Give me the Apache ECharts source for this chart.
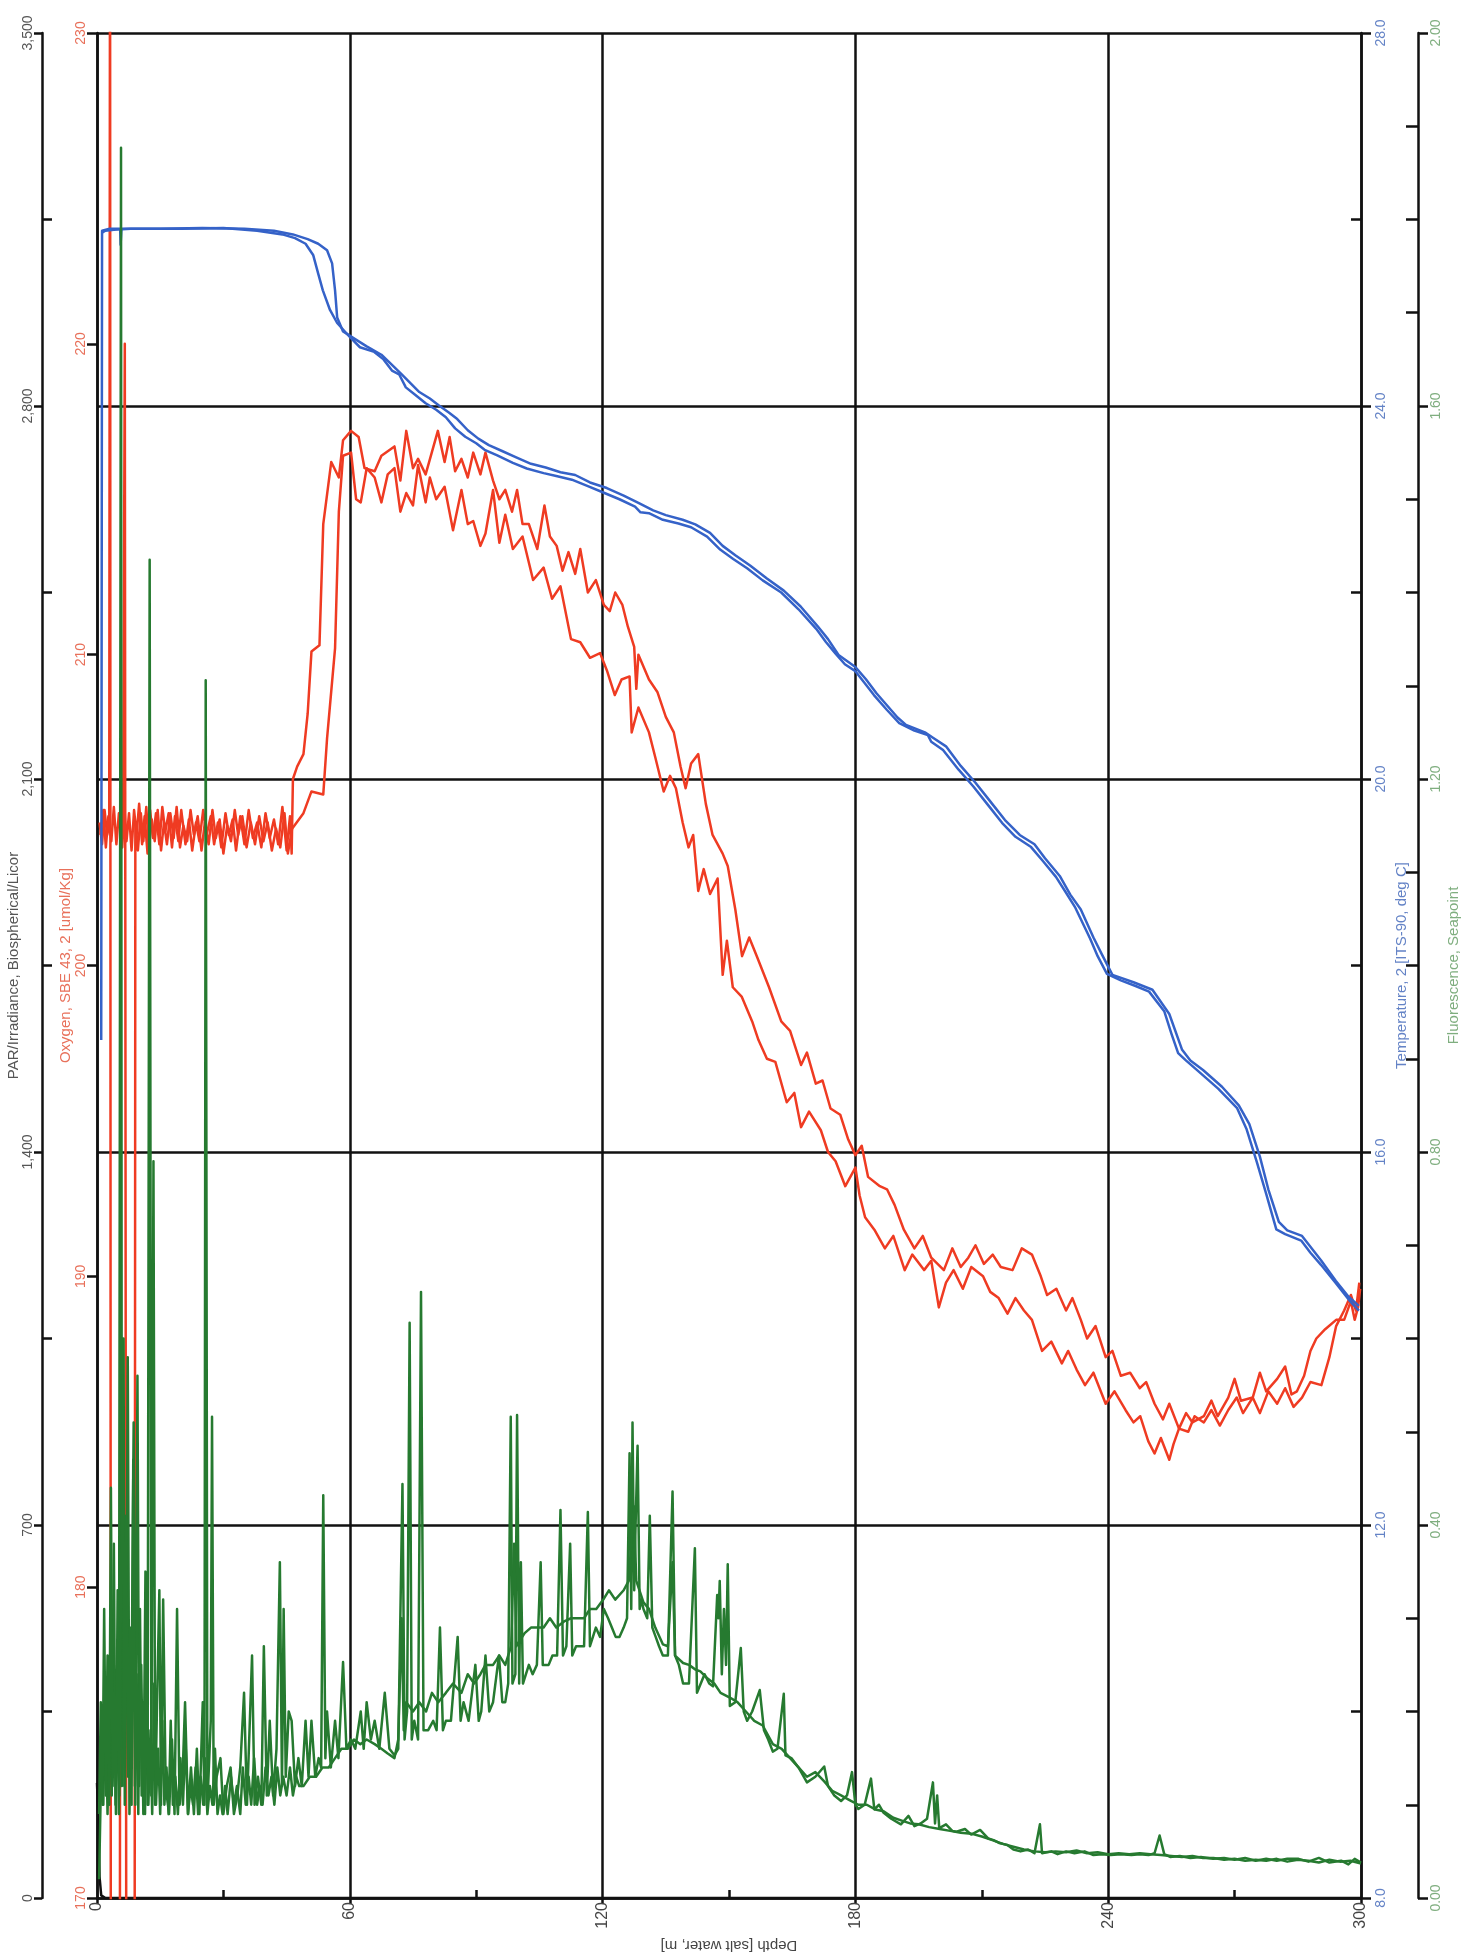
<!DOCTYPE html>
<html>
<head>
<meta charset="utf-8">
<title>CTD profile</title>
<script src="https://cdn.jsdelivr.net/npm/echarts@6/dist/echarts.min.js"></script>
<style>
  html, body { margin: 0; padding: 0; background: #fff; }
  #chart { width: 1461px; height: 1957px; }
</style>
</head>
<body>
<div id="chart"></div>
<script>
// every profile is a list of [depth m, value]
const parProfile = [[0, 216], [0.3, 150], [0.6, 40], [1, 5], [2, 0], [300, 0]]

const oxygenDown = [
  [0.6, 204.6], [1.2, 203.9], [1.8, 205.0], [2.4, 204.2], [2.9, 204.5], [3.1, 236], [3.3, 160], [4.2, 160], [5.4, 160],
  [5.6, 204.5], [6.0, 203.8], [6.5, 205.1], [7.0, 204.0], [7.6, 204.9], [8.2, 203.7], [8.8, 205.0], [9.4, 204.2],
  [10, 205.2], [10.7, 203.9], [11.3, 204.8], [12, 203.6], [12.6, 205.0], [13.3, 204.1], [14, 204.9], [14.8, 203.9],
  [15.5, 205.1], [16.2, 204.3], [17, 204.9], [17.8, 203.8], [18.5, 204.8], [19.3, 204.0], [20, 205.0], [21, 203.9],
  [21.8, 204.7], [22.6, 203.7], [23.5, 204.6], [24.3, 204.0], [25.2, 205.0], [26, 204.2], [27, 204.8], [27.8, 203.9],
  [28.7, 204.6], [29.5, 203.8], [30.5, 204.9], [31.3, 204.2], [32.2, 204.7], [33, 203.7], [34, 204.8], [35, 203.9],
  [36, 205.0], [37, 204.1], [38, 204.6], [39, 203.8], [40, 204.9], [41, 204.1], [42, 204.7], [43, 203.9], [44, 205.1],
  [45, 203.7], [45.8, 204.8], [46.2, 203.6], [46.5, 206.0], [47.5, 206.4], [49.0, 206.8], [50.0, 208.1], [50.9, 210.1],
  [52.8, 210.3], [53.7, 214.2], [55.6, 216.2], [57.4, 215.7], [58.4, 216.9], [60.3, 217.2],
  [62.1, 217.0], [63.5, 216.0], [65.9, 215.9], [67.5, 216.4], [70.6, 216.7], [72, 215.6], [73.4, 217.2], [75, 216.0],
  [76.2, 216.3], [78, 215.8], [80.9, 217.2], [82.5, 216.2], [83.7, 217.0], [85, 215.9], [86.5, 216.3], [88, 215.7],
  [89.3, 216.5], [91, 215.8], [92.2, 216.5], [94.0, 215.6], [95.5, 215.0], [96.9, 215.3], [98.5, 214.6], [99.7, 215.3],
  [101, 214.2], [102.5, 214.2], [104.5, 213.4], [106.2, 214.8], [107.5, 213.8], [109.1, 213.5], [110.5, 212.7],
  [111.9, 213.3], [113.5, 212.6], [114.7, 213.4], [116.5, 212.0], [118.4, 212.4], [120.3, 211.6], [121.7, 211.4],
  [123, 212.0], [124.7, 211.6], [126, 210.9], [127.5, 210.25], [128, 208.9], [128.5, 210.0], [131, 209.2], [133, 208.8],
  [135, 208.0], [136.9, 207.5], [138.5, 206.4], [139.7, 205.7], [141, 206.5], [142.7, 206.8], [144.5, 205.2],
  [146.1, 204.2], [148.5, 203.6], [149.7, 203.2], [151.5, 201.8], [153.1, 200.3], [154.8, 200.9], [156.6, 200.3],
  [159.5, 199.3], [162.4, 198.2], [164.5, 197.9], [167.1, 196.8], [168.5, 197.2], [170.6, 196.2], [172.2, 196.3],
  [174.1, 195.4], [176.4, 195.2], [178.3, 194.4], [180, 193.9], [181.5, 194.2], [183, 193.2], [185.8, 192.9],
  [187.5, 192.8], [189.3, 192.3], [191.5, 191.5], [194, 190.9], [196, 191.3], [198, 190.6], [201, 190.2], [203, 190.9],
  [205, 190.3], [206.8, 190.6], [208.5, 191.0], [210.5, 190.4], [212.6, 190.7], [214.5, 190.3], [217.3, 190.2],
  [219.5, 190.9], [221.9, 190.7], [224, 190.0], [225.5, 189.4], [227.7, 189.6], [230, 188.9], [231.5, 189.3],
  [233.5, 188.6], [235, 188.0], [237, 188.4], [239.4, 187.4], [241, 187.6], [243, 186.8], [245.2, 186.9], [247.5, 186.4],
  [249, 186.6], [251, 185.9], [253, 185.4], [254.5, 185.9], [256.8, 185.1], [258.5, 185.6], [260, 185.3], [262.7, 185.5],
  [264.5, 186.0], [266, 185.5], [268.5, 186.1], [270, 186.7], [271.5, 186.0], [274.3, 186.1], [276, 186.9], [277.5, 186.3],
  [280.1, 186.7], [282, 187.1], [283.5, 186.2], [284.8, 186.3], [286.5, 186.8], [288, 187.6], [289.4, 188.0],
  [291.5, 188.3], [294.1, 188.6], [296, 188.6], [297.6, 189.2], [298.5, 188.6], [299.3, 189.0], [299.8, 189.6]
]

const oxygenUp = [
  [0.8, 204.2], [1.5, 205.0], [2.1, 203.8], [2.7, 204.8], [3.4, 204.0], [4.0, 205.1], [4.6, 203.9], [5.2, 204.9],
  [5.8, 204.1], [6.2, 204.4], [6.6, 220], [7.0, 160], [8.9, 160], [9.1, 204.6], [9.7, 203.7], [10.4, 204.9],
  [11.0, 204.0], [11.7, 205.1], [12.3, 203.8], [13.0, 204.7], [13.7, 204.0], [14.4, 205.0], [15.2, 203.7],
  [15.9, 204.6], [16.6, 203.9], [17.4, 204.9], [18.2, 204.1], [18.9, 205.1], [19.7, 203.8], [20.5, 204.5],
  [21.4, 204.0], [22.2, 205.0], [23.0, 204.2], [23.9, 204.8], [24.8, 203.7], [25.6, 204.6], [26.5, 203.9],
  [27.4, 205.0], [28.2, 204.1], [29.1, 204.7], [30.0, 203.6], [30.9, 204.5], [31.8, 204.0], [32.7, 205.0],
  [33.5, 204.2], [34.5, 204.8], [35.5, 203.8], [36.5, 204.6], [37.5, 203.9], [38.5, 204.8], [39.5, 204.0],
  [40.5, 204.6], [41.5, 203.7], [42.5, 204.4], [43.5, 203.8], [44.5, 204.9], [45.3, 203.6], [46.3, 204.4],
  [49.0, 204.9], [50.9, 205.6], [53.7, 205.5], [54.6, 207.3], [56.5, 210.2], [57.4, 214.6], [58.4, 216.4], [60.3, 216.5],
  [61.5, 215.0], [62.6, 214.9], [64.0, 216.0], [65.9, 215.7], [67.5, 214.9], [69, 215.8], [70.6, 216.0], [72, 214.6],
  [73.4, 215.2], [75, 214.8], [76.2, 216.1], [78, 214.9], [79.0, 215.7], [80.5, 215.0], [82.5, 215.4], [84.5, 214.0],
  [86.5, 215.3], [88, 214.2], [89.3, 214.3], [91, 213.5], [92.2, 213.9], [94.0, 215.3], [95.5, 213.6], [96.9, 214.5],
  [98.7, 213.4], [101, 213.8], [103.5, 212.4], [106, 212.8], [108, 211.8], [110, 212.2], [112.5, 210.5], [114.7, 210.4],
  [117, 209.9], [119.4, 210.05], [121, 209.5], [122.9, 208.7], [124.5, 209.2], [126.4, 209.3], [126.9, 207.5],
  [128.5, 208.3], [131, 207.5], [132.5, 206.7], [134.5, 205.6], [136, 206.1], [137.4, 205.7], [139, 204.6],
  [140.4, 203.8], [141.5, 204.2], [142.7, 202.4], [144, 203.1], [145.5, 202.3], [147.3, 202.8], [148.5, 199.7],
  [149.5, 200.8], [150.9, 199.3], [153, 199.0], [155.5, 198.2], [157, 197.6], [159, 197.0], [161, 196.9], [163.7, 195.6],
  [165.5, 195.9], [167.1, 194.8], [169, 195.3], [171.8, 194.7], [173.5, 194.0], [175.3, 193.7], [177.6, 192.9],
  [180, 193.5], [181, 192.6], [182.3, 191.9], [184.5, 191.5], [187, 190.9], [189, 191.3], [191.7, 190.2], [193.5, 190.7],
  [196.3, 190.2], [198, 190.5], [199.8, 189.0], [201.5, 189.8], [203.3, 190.2], [205.5, 189.6], [207.5, 190.3],
  [210.3, 190.0], [212, 189.5], [214, 189.3], [216.1, 188.8], [218, 189.3], [220, 188.9], [221.9, 188.6], [224.3, 187.6],
  [226.5, 187.9], [229, 187.2], [230.5, 187.6], [232.5, 187.0], [234.5, 186.5], [236.5, 186.9], [239.4, 185.9],
  [241.5, 186.3], [244.1, 185.7], [246, 185.3], [247.6, 185.5], [249.5, 184.7], [251, 184.3], [252.5, 184.8],
  [254.5, 184.1], [255.5, 184.6], [256.8, 185.1], [259, 185.0], [260.5, 185.5], [262.7, 185.3], [264.5, 185.7],
  [266.5, 185.2], [268.5, 185.7], [270.5, 186.1], [272, 185.6], [274.3, 186.1], [276, 185.6], [278, 186.3],
  [280.1, 185.9], [282, 186.4], [284, 185.8], [286, 186.1], [288, 186.6], [290.6, 186.5], [292.5, 187.4],
  [294.1, 188.4], [296, 188.9], [297.6, 189.4], [298.8, 188.9], [299.6, 189.8]
]

const tempDown = [
  [1.0, 17.2], [1.2, 25.88], [3, 25.9], [5.5, 25.9], [5.6, 25.73], [5.8, 25.9], [10, 25.9], [20, 25.9], [30, 25.91],
  [38, 25.88], [44, 25.84], [47, 25.8], [49.5, 25.74], [51.3, 25.62], [52.5, 25.42], [53.6, 25.24], [55.3, 25.03],
  [57, 24.89], [60, 24.74], [62.4, 24.63], [65.8, 24.58], [68, 24.5], [70, 24.38], [71.7, 24.34], [73.3, 24.2],
  [75.5, 24.12], [78, 24.03], [80.5, 23.96], [82.8, 23.88], [85, 23.76], [87.4, 23.67], [90, 23.6], [92, 23.53],
  [95, 23.47], [98.7, 23.39], [102, 23.33], [106, 23.28], [109, 23.25], [112.7, 23.21], [116.5, 23.14], [120.3, 23.07],
  [124, 23.0], [127.7, 22.92], [129, 22.86], [131, 22.85], [134.3, 22.78], [138, 22.74], [141, 22.70], [144.8, 22.6],
  [147.9, 22.46], [151, 22.36], [154.3, 22.26], [158, 22.13], [162.4, 22.0], [166.5, 21.82], [170.7, 21.61],
  [173, 21.47], [175.2, 21.35], [177.5, 21.23], [179.9, 21.16], [182, 21.04], [184.4, 20.9], [187.5, 20.74],
  [190.4, 20.6], [194, 20.52], [197.2, 20.47], [198, 20.4], [200.8, 20.31], [204.5, 20.1], [208, 19.92], [211.5, 19.72],
  [214.8, 19.53], [218, 19.38], [221.7, 19.27], [224.5, 19.12], [227.6, 18.95], [230, 18.78], [232.2, 18.62],
  [235.7, 18.29], [237.5, 18.1], [239.7, 17.91], [243, 17.84], [246.5, 17.78], [249.7, 17.72], [253.3, 17.51],
  [255, 17.27], [256.6, 17.06], [258.5, 16.98], [261.3, 16.87], [266.1, 16.68], [270.6, 16.47], [272.8, 16.25],
  [275.3, 15.89], [277.5, 15.55], [279.9, 15.17], [282, 15.12], [285.8, 15.05], [288, 14.92], [290.5, 14.79],
  [293.9, 14.6], [297.4, 14.4], [299.5, 14.3]
]

const tempUp = [
  [299.5, 14.35], [297, 14.45], [294, 14.62], [290.5, 14.84], [286, 15.1], [282.5, 15.16], [280.5, 15.25], [278, 15.6],
  [276, 15.95], [273.5, 16.3], [271, 16.5], [267, 16.7], [262.5, 16.88], [259.5, 16.98], [257.5, 17.1], [254.5, 17.48],
  [250.5, 17.74], [246, 17.82], [241, 17.9], [238.5, 18.12], [236.5, 18.3], [233.5, 18.6], [231, 18.76], [228.5, 18.96],
  [225, 19.15], [222.5, 19.3], [219, 19.4], [215.5, 19.56], [212, 19.76], [208.5, 19.96], [205, 20.14], [201.5, 20.35],
  [198.5, 20.44], [196.5, 20.5], [192, 20.58], [190, 20.66], [185, 20.92], [182.5, 21.07], [180, 21.2], [176, 21.33],
  [173.5, 21.5], [171, 21.64], [167, 21.85], [163, 22.02], [159, 22.15], [155, 22.29], [151.5, 22.4], [148.5, 22.5],
  [145.5, 22.64], [142, 22.73], [139, 22.78], [135, 22.83], [132, 22.88], [128.5, 22.96], [125, 23.04], [121, 23.12],
  [117, 23.18], [113.5, 23.26], [110, 23.29], [106.5, 23.34], [103, 23.38], [99.5, 23.45], [96, 23.52], [93, 23.58],
  [90.5, 23.65], [88, 23.74], [85.5, 23.86], [83.5, 23.93], [81, 24.01], [79, 24.08], [76.5, 24.15], [74.5, 24.24],
  [72.5, 24.33], [70.5, 24.42], [67.5, 24.55], [64, 24.64], [60.8, 24.73], [58.4, 24.8], [57, 24.95], [56.5, 25.24],
  [55.8, 25.53], [54.6, 25.67], [52.5, 25.74], [50, 25.79], [46.5, 25.84], [42, 25.88], [35, 25.9], [25, 25.91],
  [15, 25.9], [8, 25.9], [4, 25.89], [2, 25.88], [1.2, 25.86]
]

const fluorDown = [
  [0.5, 0.02], [1.0, 0.14], [1.5, 0.10], [2.0, 0.23], [2.5, 0.09], [3.0, 0.21], [3.5, 0.11], [4.0, 0.38], [4.4, 0.10],
  [4.8, 0.25], [5.2, 0.09], [5.7, 1.877], [5.9, 0.12], [6.1, 0.30], [6.3, 0.60], [6.6, 0.10], [7.0, 0.28], [7.3, 0.58],
  [7.7, 0.09], [8.2, 0.22], [8.7, 0.51], [9.1, 0.10], [9.6, 0.56], [10.0, 0.12], [10.5, 0.25], [11.0, 0.09],
  [11.5, 0.35], [12.0, 0.10], [12.5, 1.435], [12.9, 0.11], [13.4, 0.79], [13.8, 0.10], [14.3, 0.22], [14.8, 0.33],
  [15.2, 0.10], [15.7, 0.32], [16.3, 0.12], [17.1, 0.09], [17.8, 0.17], [18.4, 0.09], [19.0, 0.31], [19.6, 0.10],
  [20.3, 0.13], [20.9, 0.21], [21.6, 0.09], [22.3, 0.14], [23.0, 0.09], [23.7, 0.16], [24.3, 0.09], [25.1, 0.21],
  [25.5, 0.10], [25.8, 1.306], [26.2, 0.10], [27.0, 0.19], [27.3, 0.516], [27.7, 0.10], [28.4, 0.13], [29.3, 0.15],
  [30.0, 0.09], [30.8, 0.12], [31.7, 0.14], [32.5, 0.09], [33.3, 0.11], [34.0, 0.14], [34.9, 0.22], [35.6, 0.10],
  [36.8, 0.26], [37.4, 0.10], [38.2, 0.13], [39.0, 0.10], [39.6, 0.27], [40.3, 0.11], [41.0, 0.19], [41.8, 0.11],
  [42.6, 0.16], [43.4, 0.36], [43.9, 0.12], [44.3, 0.31], [44.8, 0.13], [45.5, 0.20], [46.2, 0.19], [47.0, 0.12],
  [47.8, 0.15], [48.6, 0.12], [49.5, 0.19], [50.2, 0.13], [50.9, 0.19], [51.8, 0.13], [52.6, 0.15], [53.2, 0.14],
  [53.7, 0.432], [54.2, 0.15], [54.6, 0.20], [55.5, 0.14], [56.5, 0.19], [57.3, 0.15], [58.4, 0.253], [59.2, 0.16],
  [60.3, 0.17], [61.3, 0.16], [62.6, 0.20], [63.3, 0.16], [64.0, 0.21], [65.0, 0.17], [65.9, 0.19], [67.0, 0.16],
  [68.3, 0.22], [69.4, 0.16], [70.6, 0.153], [71.5, 0.16], [72.5, 0.444], [73.0, 0.17], [73.6, 0.20], [74.2, 0.617],
  [74.7, 0.17], [75.3, 0.19], [76.2, 0.17], [76.9, 0.65], [77.5, 0.18], [78.6, 0.18], [79.8, 0.19], [80.6, 0.18],
  [81.4, 0.29], [82.1, 0.18], [82.8, 0.19], [84.0, 0.19], [85.6, 0.28], [86.3, 0.19], [87.0, 0.21], [88.2, 0.19],
  [89.8, 0.25], [90.6, 0.19], [91.2, 0.20], [92.2, 0.26], [93.1, 0.20], [94.0, 0.21], [95.4, 0.26], [96.2, 0.21],
  [96.9, 0.21], [97.6, 0.23], [98.2, 0.516], [98.6, 0.23], [99.3, 0.24], [99.7, 0.518], [100.2, 0.23], [100.6, 0.36],
  [101.1, 0.23], [101.5, 0.23], [102.5, 0.25], [103.4, 0.24], [104.4, 0.25], [105.3, 0.36], [105.8, 0.25],
  [106.2, 0.25], [107.2, 0.25], [108.1, 0.26], [109.2, 0.26], [110.0, 0.416], [110.6, 0.26], [111.4, 0.27],
  [112.3, 0.38], [112.8, 0.26], [113.7, 0.27], [114.6, 0.27], [115.6, 0.27], [116.5, 0.414], [117.0, 0.27],
  [117.7, 0.28], [118.4, 0.29], [119.4, 0.28], [120.3, 0.31], [121.3, 0.30], [122.2, 0.29], [123.1, 0.28],
  [124.0, 0.28], [125.0, 0.29], [125.8, 0.30], [126.4, 0.477], [126.8, 0.31], [127.1, 0.51], [127.5, 0.33],
  [127.8, 0.395], [128.3, 0.485], [128.8, 0.31], [129.2, 0.32], [129.7, 0.31], [130.6, 0.30], [131.2, 0.41],
  [131.8, 0.29], [132.6, 0.28], [133.4, 0.27], [134.3, 0.26], [135.5, 0.26], [136.6, 0.436], [137.2, 0.26],
  [138.1, 0.25], [139.1, 0.23], [140.5, 0.23], [141.9, 0.375], [142.4, 0.22], [143.3, 0.23], [144.2, 0.24],
  [145.3, 0.23], [146.2, 0.227], [147.2, 0.325], [147.5, 0.30], [147.8, 0.34], [148.3, 0.24], [148.8, 0.31],
  [149.3, 0.25], [149.7, 0.358], [150.2, 0.206], [151.5, 0.21], [152.8, 0.268], [153.5, 0.20], [154.3, 0.19],
  [155.5, 0.20], [157.3, 0.223], [158.3, 0.18], [159.3, 0.17], [160.4, 0.157], [161.5, 0.16], [163.0, 0.219],
  [163.4, 0.153], [164.8, 0.15], [166.5, 0.14], [168.5, 0.124], [170.5, 0.13], [172.6, 0.141], [173.5, 0.12],
  [175.0, 0.11], [176.6, 0.104], [178.0, 0.11], [179.2, 0.135], [180.0, 0.10], [180.7, 0.0955], [182.2, 0.10],
  [183.7, 0.128], [184.5, 0.095], [185.6, 0.10], [186.7, 0.0913], [188.5, 0.085], [190.8, 0.079], [192.6, 0.088],
  [194.0, 0.077], [195.5, 0.08], [197.0, 0.085], [198.4, 0.124], [198.9, 0.08], [199.4, 0.11], [199.9, 0.075],
  [201.5, 0.079], [203.0, 0.072], [204.0, 0.071], [206.0, 0.074], [207.5, 0.068], [209.6, 0.073], [211.5, 0.064],
  [212.8, 0.062], [214.1, 0.059], [216.0, 0.057], [217.5, 0.052], [219.2, 0.05], [221.0, 0.052], [222.5, 0.048],
  [223.8, 0.079], [224.3, 0.048], [226.5, 0.05], [228.0, 0.047], [230.0, 0.05], [232.0, 0.048], [234.4, 0.05],
  [236.5, 0.046], [238.5, 0.047], [240.6, 0.046], [243.0, 0.047], [245.5, 0.046], [247.5, 0.047], [249.6, 0.046],
  [251.0, 0.048], [252.2, 0.067], [253.3, 0.047], [254.7, 0.044], [257.0, 0.045], [259.5, 0.043], [262.0, 0.044],
  [264.9, 0.042], [267.5, 0.043], [270.0, 0.041], [272.5, 0.043], [275.0, 0.04], [277.5, 0.042], [280.0, 0.04],
  [282.5, 0.042], [285.2, 0.042], [287.5, 0.039], [290.0, 0.043], [292.5, 0.038], [295.3, 0.04], [297.0, 0.036],
  [298.5, 0.042], [300.0, 0.038]
]

const fluorUp = [
  [0.5, 0.09], [0.9, 0.21], [1.3, 0.10], [1.7, 0.31], [2.1, 0.11], [2.5, 0.26], [2.9, 0.10], [3.3, 0.44], [3.7, 0.12],
  [4.1, 0.22], [4.5, 0.09], [4.9, 0.33], [5.3, 0.11], [6.1, 0.56], [6.5, 0.12], [6.9, 0.41], [7.4, 0.13], [7.8, 0.29],
  [8.2, 0.10], [8.6, 0.47], [9.0, 0.12], [9.4, 0.24], [9.8, 0.09], [10.2, 0.31], [10.6, 0.11], [11.0, 0.21],
  [11.4, 0.09], [11.8, 0.27], [12.2, 0.10], [12.7, 0.18], [13.1, 0.09], [13.6, 0.23], [14.0, 0.10], [14.5, 0.16],
  [15.0, 0.09], [15.5, 0.19], [16.0, 0.10], [16.5, 0.14], [17.0, 0.09], [17.5, 0.19], [18.0, 0.10], [18.6, 0.13],
  [19.2, 0.09], [19.8, 0.15], [20.4, 0.10], [21.0, 0.17], [21.6, 0.09], [22.2, 0.12], [22.8, 0.10], [23.4, 0.14],
  [24.0, 0.09], [24.6, 0.13], [25.2, 0.10], [25.6, 0.15], [26.2, 0.09], [26.8, 0.12], [27.4, 0.10], [28.0, 0.16],
  [28.6, 0.09], [29.2, 0.11], [29.8, 0.09], [30.4, 0.12], [31.0, 0.09], [31.8, 0.13], [32.5, 0.10], [33.2, 0.12],
  [34.0, 0.09], [34.6, 0.14], [35.3, 0.10], [36.0, 0.13], [36.6, 0.10], [37.3, 0.15], [38.0, 0.10], [38.6, 0.12],
  [39.3, 0.10], [40.0, 0.14], [40.7, 0.11], [41.4, 0.13], [42.1, 0.10], [42.8, 0.14], [43.5, 0.11], [44.2, 0.13],
  [45.0, 0.11], [45.8, 0.14], [46.5, 0.11], [47.3, 0.13], [48.0, 0.12], [49.0, 0.12], [50.5, 0.13], [52.0, 0.13],
  [53.5, 0.14], [55.0, 0.14], [56.5, 0.15], [58.0, 0.16], [59.5, 0.16],
  [61.0, 0.17], [62.5, 0.165], [64.0, 0.17], [65.9, 0.165], [67.5, 0.16], [69.0, 0.155], [70.6, 0.15], [71.5, 0.17],
  [72.3, 0.30], [72.8, 0.18], [73.4, 0.21], [75.0, 0.20], [76.5, 0.21], [78.1, 0.20], [79.5, 0.22], [81.0, 0.21],
  [82.8, 0.22], [84.5, 0.23], [86.5, 0.22], [88.0, 0.24], [89.5, 0.23], [91.0, 0.24], [92.2, 0.25], [94.0, 0.25],
  [95.5, 0.26], [96.9, 0.25], [98.3, 0.27], [99.0, 0.38], [99.5, 0.27], [101.5, 0.284], [103.0, 0.29], [104.5, 0.29],
  [106.0, 0.29], [107.5, 0.30], [109.0, 0.29], [111.0, 0.297], [112.5, 0.30], [114.0, 0.30], [115.6, 0.30],
  [117.0, 0.31], [118.5, 0.31], [120.3, 0.321], [121.5, 0.33], [123.0, 0.32], [125.0, 0.33], [126.2, 0.34],
  [127.4, 0.42], [128.0, 0.34], [129.7, 0.317], [131.0, 0.31], [132.5, 0.29], [134.3, 0.272], [135.5, 0.27],
  [136.6, 0.36], [137.2, 0.26], [139.1, 0.252], [140.5, 0.25], [142.0, 0.245], [143.2, 0.243], [145.0, 0.235],
  [146.5, 0.23], [148.0, 0.22], [150.2, 0.215], [152.0, 0.21], [154.0, 0.20], [156.0, 0.19], [158.0, 0.185],
  [160.4, 0.165], [162.5, 0.16], [164.5, 0.15], [166.5, 0.14], [168.5, 0.13], [170.5, 0.135], [172.6, 0.125],
  [174.5, 0.115], [176.6, 0.11], [178.6, 0.105], [180.7, 0.1], [182.7, 0.1], [184.7, 0.095], [186.7, 0.093],
  [189.0, 0.086], [191.0, 0.083], [193.0, 0.08], [195.0, 0.079], [197.5, 0.076], [200.0, 0.074], [202.5, 0.072],
  [205.0, 0.07], [207.5, 0.069], [210.0, 0.066], [212.5, 0.062], [215.0, 0.058], [217.5, 0.055], [220.0, 0.052],
  [222.5, 0.05], [225.0, 0.049], [227.5, 0.05], [230.0, 0.049], [232.5, 0.051], [235.0, 0.048], [237.5, 0.049],
  [240.0, 0.047], [242.5, 0.048], [245.0, 0.047], [247.5, 0.048], [250.0, 0.047], [252.5, 0.046], [255.0, 0.045],
  [257.5, 0.044], [260.0, 0.045], [262.5, 0.043], [265.0, 0.043], [267.5, 0.041], [270.0, 0.042], [272.5, 0.04],
  [275.0, 0.041], [277.5, 0.04], [280.0, 0.042], [282.5, 0.039], [285.0, 0.041], [287.5, 0.04], [290.0, 0.038],
  [292.5, 0.041], [295.0, 0.039], [297.5, 0.04], [300.0, 0.037]
]

// axis ranges: [min, max, interval]
const depthRange = [0, 300, 60]
const parRange = [0, 3500, 700]
const oxygenRange = [170, 230, 10]
const tempRange = [8, 28, 4]
const fluorRange = [0, 2, 0.4]

const ink = '#111'
const colors = {
  par: '#111',
  oxygen: '#ef3b22',
  temp: '#3562c8',
  fluor: '#267a30'
}
const labelColors = {
  par: '#555',
  oxygen: '#e8705a',
  temp: '#6483c6',
  fluor: '#7fae7f'
}
const fontFamily = '"Liberation Sans", Arial, sans-serif'
const labelSize = 14
const nameSize = 15

function lineStyle (w) {
  return { color: ink, width: w || 2.5 }
}

function valueAxis (range, opts) {
  return Object.assign({
    type: 'value',
    min: range[0],
    max: range[1],
    interval: range[2],
    nameLocation: 'middle',
    nameRotate: 90,
    nameMoveOverlap: false,
    axisLine: { show: true, onZero: false, lineStyle: lineStyle() },
    axisTick: { show: true, length: 8, lineStyle: lineStyle() },
    splitLine: { show: false }
  }, opts)
}

const chart = echarts.init(document.getElementById('chart'), null, { renderer: 'canvas' })

const option = {
  backgroundColor: '#fff',
  animation: false,
  textStyle: { fontFamily: fontFamily },
  grid: { left: 97, right: 100, top: 33, bottom: 59, containLabel: false, outerBoundsMode: 'none' },
  xAxis: {
    type: 'value',
    min: depthRange[0],
    max: depthRange[1],
    interval: depthRange[2],
    name: 'Depth [salt water, m]',
    nameLocation: 'middle',
    nameGap: 40,
    nameRotate: 180,
    nameMoveOverlap: false,
    nameTextStyle: { color: '#444', fontSize: nameSize, fontFamily: fontFamily },
    axisLine: { show: true, onZero: false, lineStyle: lineStyle() },
    axisTick: { show: true, length: 6, lineStyle: lineStyle() },
    minorTick: { show: true, splitNumber: 2, length: -8, lineStyle: lineStyle() },
    axisLabel: { rotate: 90, margin: 4, color: '#444', fontSize: 16, fontFamily: fontFamily },
    splitLine: { show: true, lineStyle: lineStyle() }
  },
  yAxis: [
    valueAxis(parRange, {
      position: 'left',
      offset: 55,
      name: 'PAR/Irradiance, Biospherical/Licor',
      nameGap: 21,
      nameTextStyle: { color: labelColors.par, fontSize: nameSize, fontFamily: fontFamily },
      minorTick: { show: true, splitNumber: 2, length: -10, lineStyle: lineStyle() },
      axisLabel: {
        rotate: 90, margin: 7, color: labelColors.par, fontSize: labelSize, fontFamily: fontFamily,
        formatter: v => v.toLocaleString('en-US')
      },
      splitLine: { show: true, lineStyle: lineStyle() }
    }),
    valueAxis(oxygenRange, {
      position: 'left',
      offset: 0,
      name: 'Oxygen, SBE 43, 2 [umol/Kg]',
      nameGap: 24,
      nameTextStyle: { color: labelColors.oxygen, fontSize: nameSize, fontFamily: fontFamily },
      axisTick: { show: true, length: 10, lineStyle: lineStyle() },
      axisLabel: { rotate: 90, margin: 9, color: labelColors.oxygen, fontSize: labelSize, fontFamily: fontFamily }
    }),
    valueAxis(tempRange, {
      position: 'right',
      offset: 0,
      name: 'Temperature, 2 [ITS-90, deg C]',
      nameGap: 33,
      nameTextStyle: { color: labelColors.temp, fontSize: nameSize, fontFamily: fontFamily },
      axisTick: { show: true, length: 10, lineStyle: lineStyle() },
      minorTick: { show: true, splitNumber: 2, length: -10, lineStyle: lineStyle() },
      axisLabel: {
        rotate: 90, margin: 13, color: labelColors.temp, fontSize: labelSize, fontFamily: fontFamily,
        formatter: v => v.toFixed(1)
      }
    }),
    valueAxis(fluorRange, {
      position: 'right',
      offset: 57,
      name: 'Fluorescence, Seapoint',
      nameGap: 28,
      nameTextStyle: { color: labelColors.fluor, fontSize: nameSize, fontFamily: fontFamily },
      axisTick: { show: true, length: 10, lineStyle: lineStyle() },
      minorTick: { show: true, splitNumber: 4, length: -12, lineStyle: lineStyle() },
      axisLabel: {
        rotate: 90, margin: 11, color: labelColors.fluor, fontSize: labelSize, fontFamily: fontFamily,
        formatter: v => v.toFixed(2)
      }
    })
  ],
  series: [
    { name: 'PAR', data: parProfile, yAxisIndex: 0, color: colors.par },
    { name: 'Oxygen down', data: oxygenDown, yAxisIndex: 1, color: colors.oxygen },
    { name: 'Oxygen up', data: oxygenUp, yAxisIndex: 1, color: colors.oxygen },
    { name: 'Temperature down', data: tempDown, yAxisIndex: 2, color: colors.temp },
    { name: 'Temperature up', data: tempUp, yAxisIndex: 2, color: colors.temp },
    { name: 'Fluorescence down', data: fluorDown, yAxisIndex: 3, color: colors.fluor },
    { name: 'Fluorescence up', data: fluorUp, yAxisIndex: 3, color: colors.fluor }
  ].map(s => Object.assign({
    type: 'line',
    symbol: 'none',
    silent: true,
    clip: true,
    lineStyle: { width: 2.5, color: s.color, join: 'round' }
  }, s))
}

chart.setOption(option)
</script>
</body>
</html>
